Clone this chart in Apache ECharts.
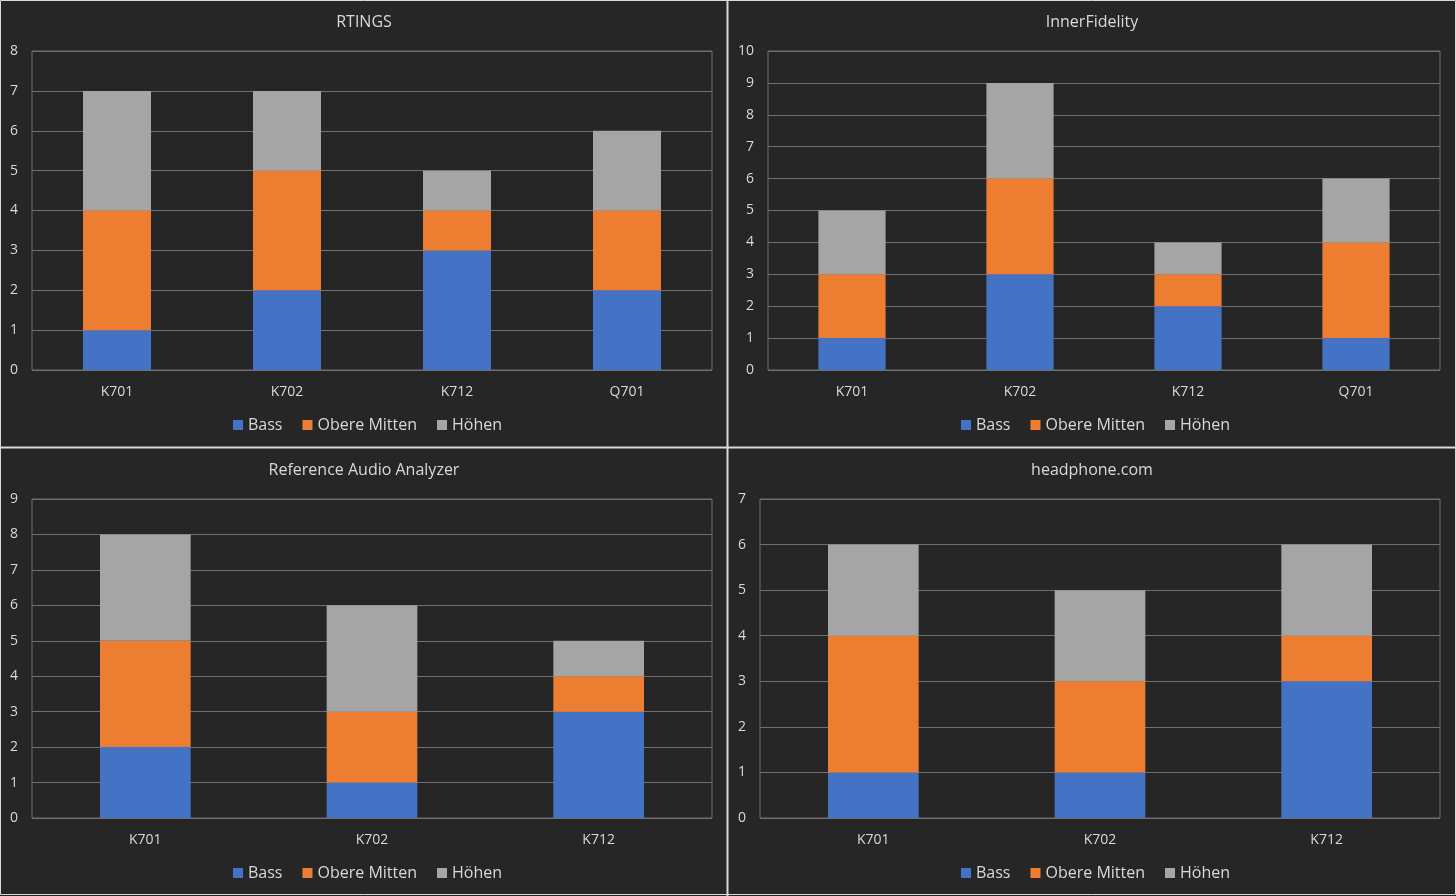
<!DOCTYPE html>
<html><head><meta charset="utf-8">
<script src="https://cdn.jsdelivr.net/npm/echarts@6/dist/echarts.min.js"></script>
<style>html,body{margin:0;padding:0;background:#262626}#c{width:1456px;height:896px}</style>
</head><body><div id="c"></div>
<script>
const seriesNames = ['Bass', 'Obere Mitten', 'Höhen'];
const colors = ['#4472C4', '#ED7D31', '#A5A5A5'];

const titles = ['RTINGS', 'InnerFidelity', 'Reference Audio Analyzer', 'headphone.com'];
const cats1 = ['K701', 'K702', 'K712', 'Q701'];
const cats2 = ['K701', 'K702', 'K712', 'Q701'];
const cats3 = ['K701', 'K702', 'K712'];
const cats4 = ['K701', 'K702', 'K712'];

const rtingsBass = [1, 2, 3, 2];
const rtingsMitten = [3, 3, 1, 2];
const rtingsHoehen = [3, 2, 1, 2];

const innerBass = [1, 3, 2, 1];
const innerMitten = [2, 3, 1, 3];
const innerHoehen = [2, 3, 1, 2];

const raaBass = [2, 1, 3];
const raaMitten = [3, 2, 1];
const raaHoehen = [3, 3, 1];

const hpBass = [1, 1, 3];
const hpMitten = [3, 2, 1];
const hpHoehen = [2, 2, 2];

const yMax = [8, 10, 9, 7];

const panels = [
  {cats: cats1, data: [rtingsBass, rtingsMitten, rtingsHoehen], grid: {left: 32, right: 1456 - 712, top: 51, height: 319}, cx: 364, ty: 21, ly: 424, lx: 233},
  {cats: cats2, data: [innerBass, innerMitten, innerHoehen], grid: {left: 768, right: 1456 - 1440, top: 51, height: 319}, cx: 1092, ty: 21, ly: 424, lx: 961},
  {cats: cats3, data: [raaBass, raaMitten, raaHoehen], grid: {left: 32, right: 1456 - 712, top: 499, height: 319}, cx: 364, ty: 469, ly: 872, lx: 233},
  {cats: cats4, data: [hpBass, hpMitten, hpHoehen], grid: {left: 760, right: 1456 - 1440, top: 499, height: 319}, cx: 1092, ty: 469, ly: 872, lx: 961}
];

const font = '"Open Sans", "Noto Sans", sans-serif';
const textColor = '#d9d9d9';
const lineColor = '#6f6f6f';

const option = {
  backgroundColor: '#262626',
  animation: false,
  color: colors,
  title: [], grid: [], xAxis: [], yAxis: [], legend: [], series: [],
  graphic: [
    {type: 'line', shape: {x1: 727.5, y1: 0, x2: 727.5, y2: 896}, style: {stroke: '#d9d9d9', lineWidth: 2}, z: 100},
    {type: 'line', shape: {x1: 0, y1: 447.5, x2: 1456, y2: 447.5}, style: {stroke: '#d9d9d9', lineWidth: 2}, z: 100},
    {type: 'rect', shape: {x: 0.5, y: 0.5, width: 1455, height: 894}, style: {stroke: '#d9d9d9', fill: null, lineWidth: 1}, z: 100}
  ]
};

panels.forEach((p, i) => {
  option.title.push({
    text: titles[i], left: p.cx - 5, top: p.ty - 12, textAlign: 'center',
    textStyle: {color: textColor, fontFamily: font, fontSize: 16, fontWeight: 'normal'}
  });
  option.grid.push({left: p.grid.left, right: p.grid.right, top: p.grid.top, height: p.grid.height,
    show: true, borderColor: lineColor, borderWidth: 1, backgroundColor: 'transparent'});
  option.xAxis.push({
    type: 'category', gridIndex: i, data: p.cats,
    axisLine: {show: false}, axisTick: {show: false},
    axisLabel: {color: textColor, fontFamily: font, fontSize: 14, margin: 15}
  });
  option.yAxis.push({
    type: 'value', gridIndex: i, min: 0, max: yMax[i], interval: 1,
    axisLine: {show: false}, axisTick: {show: false},
    splitLine: {show: true, lineStyle: {color: lineColor, width: 1}},
    axisLabel: {color: textColor, fontFamily: font, fontSize: 14, margin: 14}
  });
  option.legend.push({
    data: seriesNames, left: p.lx, top: p.ly - 7, orient: 'horizontal', padding: 0,
    icon: 'rect', itemWidth: 10, itemHeight: 10, itemGap: 20,
    textStyle: {color: textColor, fontFamily: font, fontSize: 16},
    selectedMode: false
  });
  seriesNames.forEach((n, k) => {
    option.series.push({
      name: n, type: 'bar', stack: 'p' + i, xAxisIndex: i, yAxisIndex: i,
      data: p.data[k], barWidth: '40%', itemStyle: {color: colors[k]}
    });
  });
});

const chart = echarts.init(document.getElementById('c'), null, {renderer: 'canvas'});
chart.setOption(option);
</script></body></html>
